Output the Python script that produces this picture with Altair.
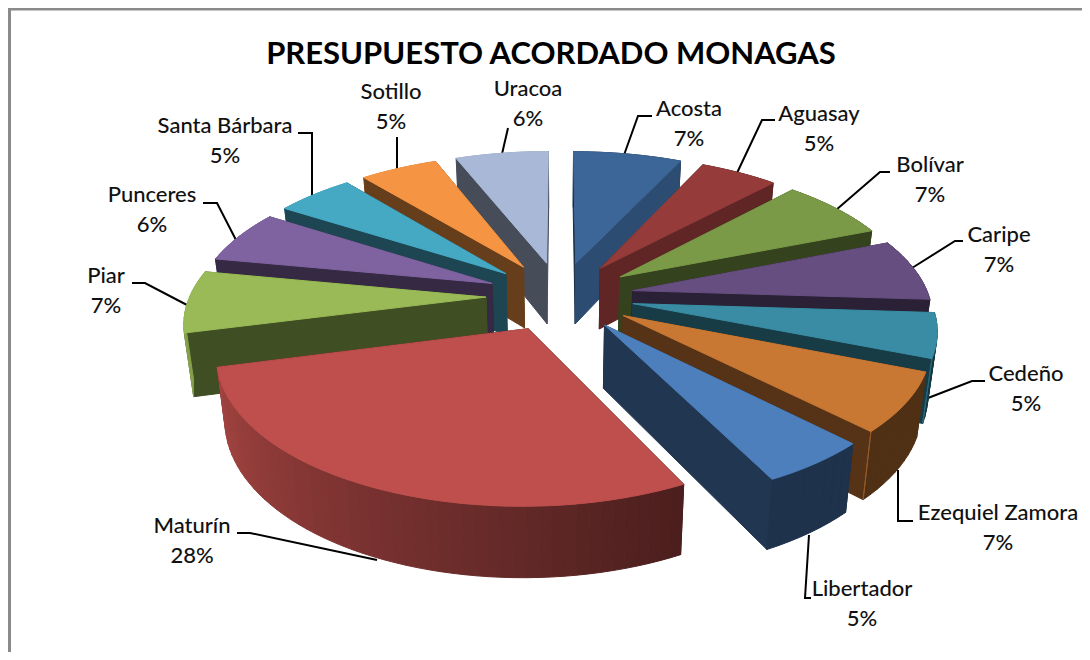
import numpy as np
import altair as alt

TITLE = "PRESUPUESTO ACORDADO MONAGAS"
categories = ["Acosta", "Aguasay", "Bolívar", "Caripe", "Cedeño", "Ezequiel Zamora", "Libertador",
              "Maturín", "Piar", "Punceres", "Santa Bárbara", "Sotillo", "Uracoa"]
shares = [7, 5, 7, 7, 5, 6.6, 5, 28.4, 7, 6, 5, 5, 6]
top_colors = ["#3C6698", "#953C3A", "#7A9A47", "#664E80", "#398CA4", "#C97834", "#4D7FBC",
              "#BE4F4C", "#99BA56", "#7F63A0", "#46A9C4", "#F59544", "#A8B8D6"]
label_x = [689, 819, 930, 999, 1026, 998, 862, 192, 106, 152, 225, 391, 528]
label_y = [109, 114, 165, 235, 374, 513, 589, 526, 276, 195, 126, 92, 89]
leaders = [
    [(624, 155), (638, 116), (652, 116)],
    [(737, 173), (762, 120), (775, 120)],
    [(836, 210), (880, 172), (890, 172)],
    [(912, 268), (955, 241), (963, 241)],
    [(928, 398), (972, 381), (985, 381)],
    [(898, 470), (898, 521), (913, 521)],
    [(809, 535), (805, 598), (811, 598)],
    [(377, 560), (250, 533), (237, 533)],
    [(187, 305), (145, 283), (132, 283)],
    [(236, 240), (217, 203), (203, 203)],
    [(312, 197), (312, 133), (298, 133)],
    [(397, 170), (397, 137)],
    [(502, 154), (508, 128)],
]

# pie geometry (a tilted, exploded disc seen in perspective)
CX, CY, AX, BY, PERSP, EXPLODE = 560.0, 296.0, 296.0, 138.5, 0.156, 0.25
BASE_SCALE, DEPTH = 0.975, 62.0


def top_pt(u, v):
    w = 1.0 / (1.0 - PERSP * v)
    return (CX + AX * u * w, CY + BY * v * w)


def bot_pt(u, v):
    w = 1.0 / (1.0 - PERSP * v)
    x, y = top_pt(u, v)
    return (CX + (x - CX) * BASE_SCALE, CY + (y - CY) * BASE_SCALE + DEPTH * w)


def shade(hex_color, f):
    r, g, b = [int(hex_color[i:i + 2], 16) for i in (1, 3, 5)]
    return "#%02x%02x%02x" % (int(r * f), int(g * f), int(b * f))


def poly(points, fill):
    ring = [[float(x), float(y)] for x, y in points]
    ring.append(ring[0])
    return {"type": "Feature", "geometry": {"type": "Polygon", "coordinates": [ring]},
            "properties": {"fill": fill}}


def line(points, stroke):
    return {"type": "Feature",
            "geometry": {"type": "LineString", "coordinates": [[float(x), float(y)] for x, y in points]},
            "properties": {"fill": stroke}}


total = float(sum(shares))
edges = np.cumsum([0] + shares) / total * 360.0
slices = []
for i, name in enumerate(categories):
    a0, a1 = edges[i], edges[i + 1]
    mid = np.radians((a0 + a1) / 2)
    ou, ov = EXPLODE * np.sin(mid), -EXPLODE * np.cos(mid)
    slices.append((ov, i, a0, a1, ou))
slices.sort()

faces = []
for ov, i, a0, a1, ou in slices:
    base = top_colors[i]
    n = max(3, int((a1 - a0) / 2.0))
    angs = np.linspace(a0, a1, n + 1)
    arc = [(ou + np.sin(np.radians(t)), ov - np.cos(np.radians(t))) for t in angs]
    quads = []
    for t, p, q in zip((angs[:-1] + angs[1:]) / 2, arc[:-1], arc[1:]):
        f = float(np.clip(0.4 + (t - 155) * 0.0047, 0.4, 0.87)) if t > 100 else 0.42
        quads.append(((p[1] + q[1]) / 2, [top_pt(*p), top_pt(*q), bot_pt(*q), bot_pt(*p)], shade(base, f)))
    end_f = float(np.interp(a1, [25, 43, 68], [0.75, 0.65, 0.43]))
    for ang, p, f in ((a0, arc[0], 0.42), (a1, arc[-1], end_f)):
        apex = (ou, ov)
        quads.append(((p[1] + ov) / 2, [top_pt(*apex), top_pt(*p), bot_pt(*p), bot_pt(*apex)], shade(base, f)))
    quads.sort(key=lambda q: q[0])
    faces += [poly(q[1], q[2]) for q in quads]
    if 100 < a1 < 150:
        faces.append(poly([top_pt(*arc[-1]), bot_pt(*arc[-1])], shade(base, 0.75)))
    faces.append(poly([top_pt(ou, ov)] + [top_pt(*p) for p in arc], base))

frame = [line([(9.5, 652), (9.5, 9), (1082, 9)], "#8A8A8A")]
leader_features = [line(pts, "#000000") for pts in leaders]

label_rows = []
for i, name in enumerate(categories):
    pct = f"{round(shares[i] / total * 100)}%"
    label_rows.append({"text": name, "lon": label_x[i], "lat": label_y[i]})
    label_rows.append({"text": pct, "lon": label_x[i], "lat": label_y[i] + 29.5})
title_rows = [{"text": TITLE, "lon": 551, "lat": 55}]

PROJ = dict(type="identity", scale=1, translate=[-8, -8])


def shapes(features):
    return alt.Chart(alt.InlineData(values={"type": "FeatureCollection", "features": features},
                                    format=alt.DataFormat(property="features", type="json")))


faces_layer = shapes(faces).mark_geoshape(strokeWidth=1).encode(
    fill=alt.Fill("properties.fill:N", scale=None),
    stroke=alt.Stroke("properties.fill:N", scale=None)).project(**PROJ)
frame_layer = shapes(frame).mark_geoshape(filled=False, stroke="#8A8A8A", strokeWidth=3).project(**PROJ)
leader_layer = shapes(leader_features).mark_geoshape(filled=False, stroke="#000000", strokeWidth=2).project(**PROJ)
text_layer = alt.Chart(alt.Data(values=label_rows)).mark_text(
    font="Lato", fontSize=22, fontWeight=500, color="#111111", align="center", baseline="middle").encode(
    longitude="lon:Q", latitude="lat:Q", text="text:N").project(**PROJ)
title_layer = alt.Chart(alt.Data(values=title_rows)).mark_text(
    font="Lato", fontSize=31, fontWeight="bold", color="#000000", align="center", baseline="middle").encode(
    longitude="lon:Q", latitude="lat:Q", text="text:N").project(**PROJ)

chart = alt.layer(frame_layer, leader_layer, faces_layer, text_layer, title_layer).properties(
    width=1074, height=644, padding=0, autosize=alt.AutoSizeParams(type="none"),
    background="#FFFFFF").configure_view(stroke=None)
chart.save("out.html", embed_options={"renderer": "svg", "actions": False})
